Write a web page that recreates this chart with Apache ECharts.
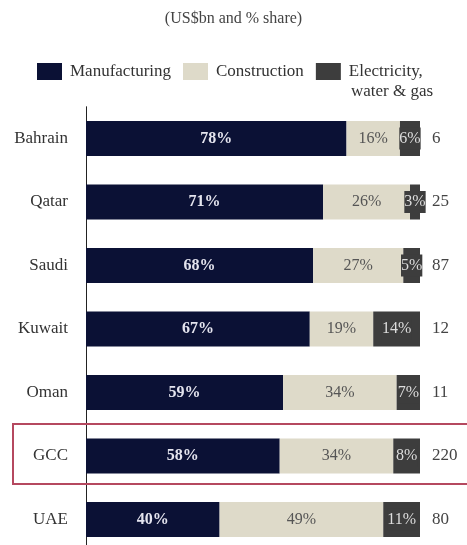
<!DOCTYPE html>
<html>
<head>
<meta charset="utf-8">
<script src="https://cdn.jsdelivr.net/npm/echarts@6/dist/echarts.min.js"></script>
<style>
  html, body { margin: 0; padding: 0; background: #fff; }
  #chart { width: 467px; height: 545px; }
</style>
</head>
<body>
<div id="chart"></div>
<script>
// Economy split by sector, % share of total, plus total size in US$bn
const countries = ['Bahrain', 'Qatar', 'Saudi', 'Kuwait', 'Oman', 'GCC', 'UAE'];
const manufacturing = [78, 71, 68, 67, 59, 58, 40];
const construction = [16, 26, 27, 19, 34, 34, 49];
const electricity = [6, 3, 5, 14, 7, 8, 11];
const totals = [6, 25, 87, 12, 11, 220, 80];
const highlighted = 'GCC';

const serif = '"Liberation Serif", "DejaVu Serif", serif';
const colNavy = '#0b1135';
const colBeige = '#dedac9';
const colDark = '#3d3d3d';
const elecName = 'Electricity, water & gas';

const chart = echarts.init(document.getElementById('chart'), null, { renderer: 'canvas' });

const pct = p => p.value + '%';

chart.setOption({
  animation: false,
  title: {
    text: '(US$bn and % share)',
    left: 'center',
    top: 6,
    textStyle: { fontFamily: serif, fontSize: 16, fontWeight: 'normal', color: '#444' }
  },
  legend: {
    top: 63,
    left: 37,
    padding: 0,
    itemWidth: 25,
    itemHeight: 17,
    itemGap: 12,
    icon: 'rect',
    textStyle: { fontFamily: serif, fontSize: 17, color: '#333', padding: [0, 0, 0, 3] },
    // the long label wraps; its second line is drawn beneath it
    formatter: name => name === elecName ? 'Electricity,' : name,
    data: ['Manufacturing', 'Construction', elecName]
  },
  // the last row runs slightly past the bottom edge
  grid: { left: 86, right: 47, top: 106.75, height: 444.5, outerBoundsMode: 'none', containLabel: false },
  xAxis: { type: 'value', min: 0, max: 100, show: false },
  yAxis: [
    {
      type: 'category',
      data: countries,
      inverse: true,
      axisLine: { show: true, lineStyle: { color: '#222', width: 1 } },
      axisTick: { show: false },
      axisLabel: { fontFamily: serif, fontSize: 17, color: '#333', margin: 18 }
    },
    {
      type: 'category',
      data: totals.map(String),
      inverse: true,
      position: 'right',
      axisLine: { show: false },
      axisTick: { show: false },
      axisLabel: { fontFamily: serif, fontSize: 17, color: '#444', margin: 12 }
    }
  ],
  series: [
    {
      name: 'Manufacturing',
      type: 'bar',
      stack: 'share',
      barWidth: 35,
      data: manufacturing,
      itemStyle: { color: colNavy },
      label: { show: true, position: 'inside', formatter: pct, color: '#e4e4ee', fontFamily: serif, fontSize: 16, fontWeight: 'bold' }
    },
    {
      name: 'Construction',
      type: 'bar',
      stack: 'share',
      data: construction,
      itemStyle: { color: colBeige },
      label: { show: true, position: 'inside', formatter: pct, color: '#555', fontFamily: serif, fontSize: 16 }
    },
    {
      name: elecName,
      type: 'bar',
      stack: 'share',
      data: electricity,
      itemStyle: { color: colDark },
      label: {
        show: true, position: 'inside', formatter: pct, color: '#dddddd',
        fontFamily: serif, fontSize: 16,
        backgroundColor: colDark, padding: [3, 0]
      }
    }
  ]
});

// Outline the regional aggregate row and finish the wrapped legend label
const cy = chart.convertToPixel({ yAxisIndex: 0 }, highlighted);
chart.setOption({
  graphic: [
    {
      type: 'rect',
      shape: { x: 13, y: cy - 32, width: 470, height: 60 },
      style: { fill: 'none', stroke: '#b5485f', lineWidth: 2 },
      z: 10
    },
    {
      type: 'text',
      left: 351,
      top: 83,
      style: { text: 'water & gas', font: '17px ' + serif, fill: '#333' }
    }
  ]
});
</script>
</body>
</html>
